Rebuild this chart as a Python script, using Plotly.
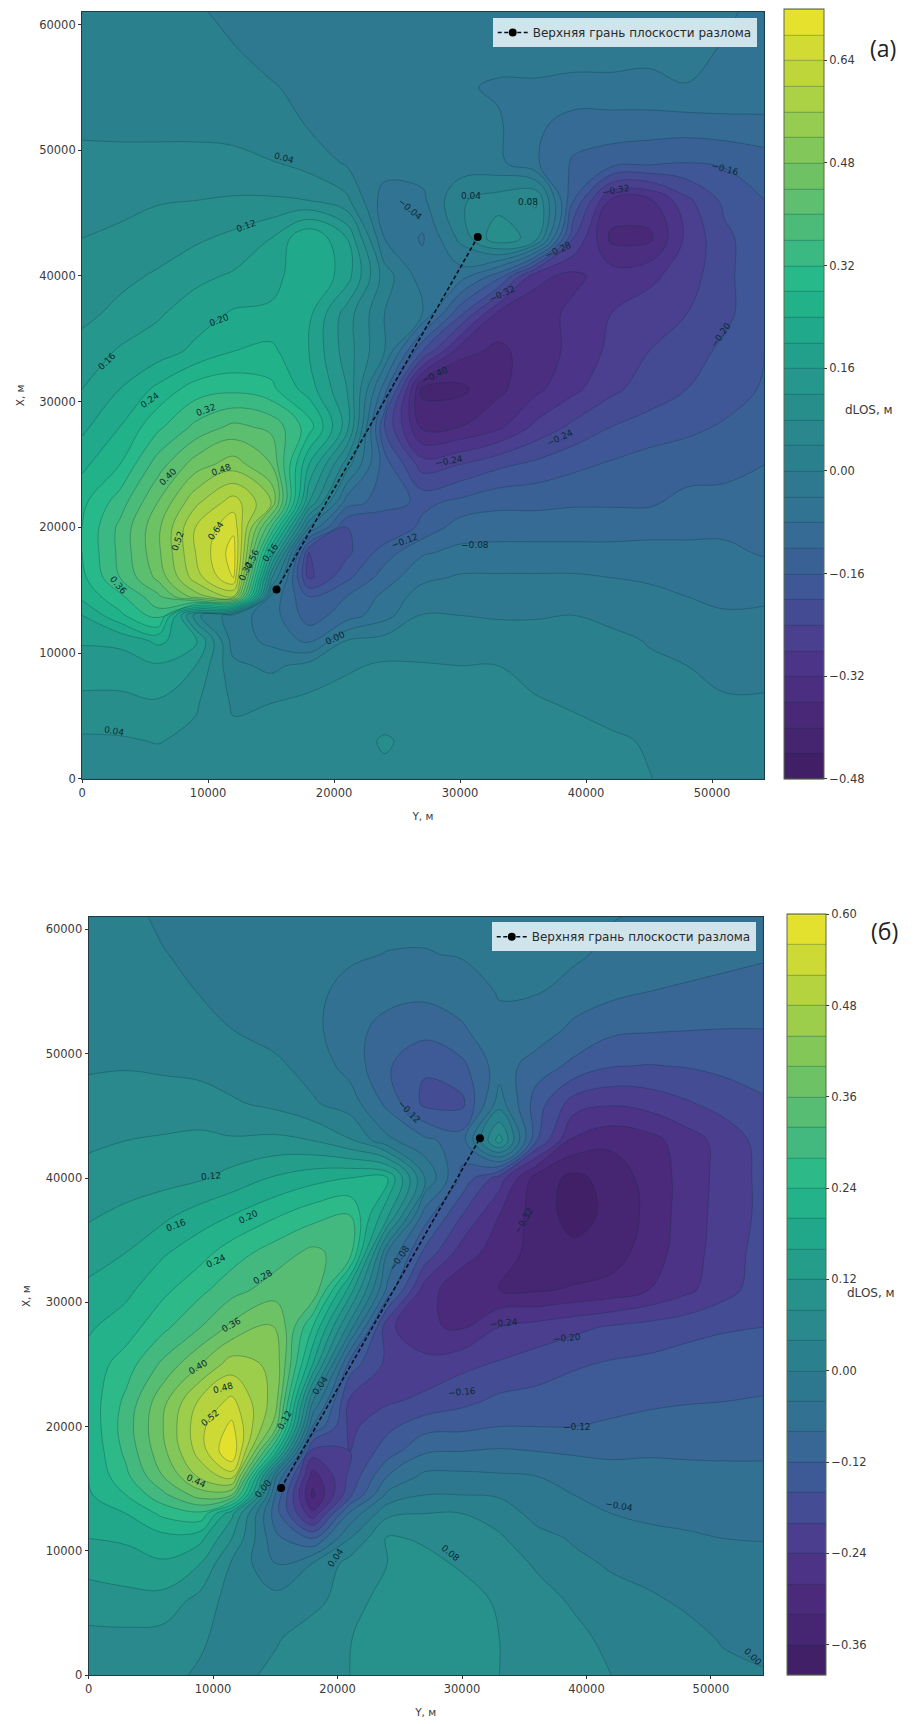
import plotly.graph_objects as go

W, H = 923, 1724
FONT = "DejaVu Sans"
TXT = "#3a3a3a"

x_a = [0,3000,6000,9000,12000,15000,18000,21000,24000,27000,30000,33000,36000,39000,42000,45000,48000,51000,54200]
x_b = [0,3000,6000,9000,11500,15000,18000,21000,24000,27000,30000,33000,36000,39000,42000,45000,48000,51000,54200]
y_rows = [61000,58000,55000,52000,49000,46000,43000,40000,37000,34000,31000,28000,25000,22000,20000,18000,16000,14500,13000,11000,9000,6000,3000,0]

z_a = [
[.03,.025,.02,.005,-.01,-.015,-.02,-.02,-.02,-.02,-.02,-.02,-.02,-.02,-.02,-.025,-.03,-.035,-.05],
[.03,.03,.025,.015,.002,-.012,-.018,-.02,-.02,-.02,-.02,-.025,-.025,-.025,-.025,-.03,-.033,-.042,-.055],
[.03,.03,.03,.028,.02,.003,-.01,-.02,-.025,-.03,-.035,-.045,-.045,-.05,-.05,-.05,-.041,-.045,-.055],
[.036,.036,.036,.036,.034,.02,-.003,-.012,-.02,-.025,-.03,-.035,-.07,-.10,-.10,-.10,-.10,-.095,-.09],
[.046,.045,.045,.045,.045,.042,.025,-.005,-.02,-.02,-.025,-.03,-.075,-.125,-.14,-.15,-.16,-.155,-.14],
[.06,.073,.077,.08,.085,.085,.08,.05,-.06,-.05,.035,.06,.085,-.16,-.33,-.33,-.25,-.19,-.16],
[.08,.085,.10,.113,.13,.16,.24,.16,-.04,-.085,.01,.11,.06,-.24,-.37,-.37,-.27,-.21,-.17],
[.095,.11,.125,.15,.165,.18,.24,.18,.02,-.06,-.06,-.14,-.31,-.33,-.30,-.29,-.26,-.21,-.17],
[.11,.13,.155,.18,.205,.21,.21,.10,.0,-.04,-.19,-.33,-.34,-.31,-.28,-.26,-.24,-.21,-.17],
[.135,.165,.18,.21,.24,.25,.20,.10,.0,-.20,-.345,-.37,-.34,-.31,-.27,-.24,-.22,-.19,-.16],
[.16,.20,.25,.30,.31,.29,.22,.12,-.10,-.41,-.41,-.37,-.33,-.29,-.25,-.22,-.20,-.18,-.155],
[.19,.24,.31,.37,.41,.39,.30,.14,-.20,-.37,-.36,-.33,-.27,-.23,-.20,-.185,-.17,-.155,-.14],
[.23,.28,.38,.46,.50,.44,.20,.02,-.14,-.26,-.24,-.21,-.19,-.17,-.155,-.14,-.135,-.13,-.12],
[.27,.34,.44,.55,.62,.52,.12,-.10,-.14,-.17,-.15,-.13,-.13,-.125,-.125,-.125,-.11,-.11,-.105],
[.28,.37,.47,.60,.67,.36,-.04,-.20,-.20,-.15,-.10,-.10,-.10,-.10,-.10,-.10,-.095,-.09,-.09],
[.28,.37,.47,.60,.70,.20,-.24,-.21,-.14,-.085,-.07,-.065,-.065,-.065,-.065,-.06,-.065,-.07,-.085],
[.27,.36,.45,.58,.68,.05,-.25,-.17,-.10,-.05,-.035,-.035,-.035,-.035,-.04,-.045,-.055,-.06,-.06],
[.25,.31,.39,.50,.56,-.05,-.16,-.12,-.07,-.02,-.017,-.017,-.017,-.015,-.025,-.03,-.04,-.05,-.045],
[.20,.27,.34,.05,-.02,-.06,-.14,-.10,-.055,.002,.0,-.003,-.003,.0,-.008,-.015,-.025,-.035,-.035],
[.165,.17,.21,.17,-.02,-.05,-.09,.0,.015,.02,.02,.015,.015,.01,.008,-.002,-.012,-.03,-.025],
[.14,.14,.155,.12,.01,-.01,.015,.035,.045,.043,.04,.04,.03,.018,.012,.005,.0,-.01,-.01],
[.11,.11,.115,.085,.035,.04,.05,.055,.055,.055,.055,.055,.043,.037,.028,.018,.01,.004,.004],
[.073,.075,.082,.07,.05,.055,.055,.06,.085,.065,.06,.06,.055,.05,.045,.037,.025,.02,.02],
[.055,.055,.055,.055,.05,.055,.06,.06,.07,.06,.06,.06,.055,.05,.045,.041,.03,.025,.025],
]

z_b = [
[.03,.012,-.008,-.015,-.02,-.022,-.025,-.03,-.03,-.03,-.03,-.03,-.03,-.03,-.038,-.045,-.05,-.055,-.06],
[.03,.025,.002,-.012,-.02,-.025,-.03,-.035,-.041,-.042,-.037,-.033,-.03,-.033,-.05,-.06,-.065,-.07,-.075],
[.03,.03,.022,-.003,-.015,-.025,-.032,-.05,-.065,-.07,-.06,-.037,-.038,-.055,-.07,-.08,-.085,-.09,-.097],
[.033,.033,.03,.02,.0,-.015,-.03,-.065,-.095,-.105,-.085,-.05,-.055,-.09,-.11,-.115,-.118,-.12,-.12],
[.037,.038,.035,.03,.02,.008,-.015,-.055,-.115,-.155,-.13,-.06,-.10,-.13,-.158,-.162,-.158,-.15,-.145],
[.05,.055,.055,.055,.045,.03,.005,-.02,-.09,-.17,-.17,-.02,-.14,-.22,-.235,-.225,-.205,-.185,-.165],
[.075,.08,.085,.09,.085,.09,.08,.045,-.03,-.07,-.10,.10,-.16,-.29,-.31,-.295,-.26,-.225,-.185],
[.09,.10,.105,.115,.135,.165,.185,.20,.20,.0,-.13,-.22,-.34,-.37,-.345,-.305,-.265,-.225,-.19],
[.115,.13,.15,.18,.20,.235,.265,.28,.13,-.10,-.20,-.28,-.34,-.375,-.35,-.31,-.26,-.225,-.19],
[.14,.16,.195,.225,.26,.30,.33,.30,-.04,-.17,-.26,-.30,-.335,-.35,-.34,-.30,-.26,-.22,-.185],
[.17,.19,.23,.27,.305,.34,.355,.14,-.09,-.26,-.31,-.32,-.325,-.315,-.305,-.28,-.25,-.215,-.18],
[.195,.22,.27,.32,.37,.405,.24,.02,-.23,-.275,-.285,-.24,-.225,-.21,-.195,-.185,-.175,-.165,-.16],
[.215,.26,.33,.40,.46,.43,.16,-.14,-.21,-.225,-.21,-.195,-.18,-.165,-.155,-.15,-.14,-.135,-.13],
[.215,.29,.39,.49,.53,.42,.0,-.21,-.205,-.19,-.17,-.15,-.145,-.135,-.13,-.125,-.122,-.12,-.118],
[.21,.30,.40,.51,.57,.38,-.08,-.21,-.17,-.135,-.13,-.12,-.12,-.12,-.115,-.11,-.105,-.10,-.10],
[.205,.29,.39,.50,.60,.22,-.22,-.20,-.14,-.085,-.08,-.075,-.08,-.085,-.09,-.085,-.085,-.085,-.085],
[.20,.27,.36,.45,.50,-.03,-.30,-.19,-.08,-.03,-.03,-.035,-.04,-.055,-.06,-.065,-.07,-.072,-.072],
[.195,.24,.31,.38,.36,-.08,-.33,-.17,-.03,.0,.0,-.005,-.03,-.04,-.045,-.055,-.06,-.063,-.065],
[.185,.20,.25,.27,.13,-.10,-.27,-.07,.03,.04,.04,.025,-.015,-.03,-.04,-.047,-.05,-.055,-.055],
[.16,.165,.185,.17,.08,-.07,-.12,.0,.085,.075,.06,.045,.015,-.005,-.02,-.03,-.035,-.04,-.041],
[.135,.145,.155,.12,.035,-.04,.0,.055,.08,.09,.075,.06,.035,.01,-.005,-.012,-.02,-.03,-.033],
[.10,.105,.105,.065,.022,.015,.028,.06,.10,.11,.095,.075,.055,.035,.015,.005,-.005,-.015,-.02],
[.07,.07,.065,.045,.025,.035,.06,.078,.11,.115,.105,.08,.065,.05,.03,.02,.01,-.003,-.007],
[.06,.055,.05,.035,.025,.05,.065,.08,.11,.115,.105,.08,.07,.055,.04,.03,.02,.008,.002],
]

fault_x_a = [15430, 31400]
fault_y_a = [15050, 43100]
fault_x_b = [15460, 31440]
fault_y_b = [15060, 43200]

ticks_x = [0,10000,20000,30000,40000,50000]
ticks_y = [0,10000,20000,30000,40000,50000,60000]
cb_vals_a = [-0.48,-0.32,-0.16,0.00,0.16,0.32,0.48,0.64]
cb_text_a = ["−0.48","−0.32","−0.16","0.00","0.16","0.32","0.48","0.64"]
cb_vals_b = [-0.36,-0.24,-0.12,0.00,0.12,0.24,0.36,0.48,0.60]
cb_text_b = ["−0.36","−0.24","−0.12","0.00","0.12","0.24","0.36","0.48","0.60"]

lab_a_text = ["0.04","−0.04","0.12","0.20","0.16","0.24","0.32","0.40","0.48","0.52","0.64","0.36","0.16","0.32","0.56","0.04","0.00","−0.12","−0.24","−0.24","−0.08","−0.28","−0.32","−0.40","−0.32","−0.16","−0.20","0.04","0.08"]
lab_a_x = [16000,26000,13000,10900,2000,5400,9800,6800,11000,7600,10600,2850,14900,13000,13500,2500,20100,25600,29100,37900,31200,37800,33300,28000,42400,51000,50700,30900,35400]
lab_a_y = [49400,45300,44000,36500,33200,30100,29300,24000,24600,18900,19700,15400,18000,16500,17500,3800,11200,18900,25300,27100,18600,42100,38600,32100,46800,48500,35300,46400,45900]
lab_a_ang = [15,40,-20,-20,-45,-35,-20,-45,-20,-70,-55,50,-55,-65,-65,10,-25,-20,-10,-25,0,-25,-25,-25,-10,15,-55,0,0]

lab_b_text = ["0.12","0.16","0.20","0.24","0.28","0.36","0.40","0.48","0.52","0.44","0.12","0.04","0.00","−0.08","−0.12","−0.32","−0.24","−0.20","−0.16","−0.12","−0.04","0.04","0.08","0.00"]
lab_b_x = [9850,7050,12800,10250,14000,11450,8800,10800,9760,8640,15760,18560,14000,24960,25760,35000,33400,38400,30000,39200,42600,19840,29040,53400]
lab_b_y = [40200,36200,36900,33300,32000,28200,24800,23100,20700,15600,20500,23300,15000,33600,45300,36600,28300,27100,22800,20000,13600,9400,9800,1500]
lab_b_ang = [-5,-20,-25,-25,-30,-30,-30,-15,-40,25,-60,-55,-50,-55,45,-60,-5,-5,-5,0,10,-55,40,45]

SCALE = [
[0.00,"#3f1d63"],[0.10,"#4b2a7c"],[0.17,"#4d3a8e"],[0.25,"#3f5797"],[0.33,"#336f93"],
[0.40,"#2c7c8e"],[0.50,"#27928c"],[0.60,"#1fae8a"],[0.65,"#28b98a"],[0.70,"#43b97f"],
[0.80,"#76c45f"],[0.90,"#b5d33e"],[1.00,"#f0e42a"],
]
LINE = "rgba(10,50,60,0.5)"

def contour(x, y, z, lo, hi, vals, text, cb_x, cb_w, top, bottom):
    return go.Contour(
        x=x, y=y, z=z, zmin=lo, zmax=hi, colorscale=SCALE, autocontour=False,
        contours=dict(start=lo, end=hi, size=0.04, coloring="fill", showlines=True),
        line=dict(color=LINE, width=0.6, smoothing=1.1),
        hoverinfo="skip",
        colorbar=dict(
            x=cb_x/W, xanchor="left", xpad=0, ypad=0, y=1-bottom/H, yanchor="bottom",
            len=bottom-top, lenmode="pixels", thickness=cb_w, thicknessmode="pixels",
            tickmode="array", tickvals=vals, ticktext=text, ticks="outside", ticklen=3,
            tickcolor="#333", tickfont=dict(family=FONT, size=11.5, color=TXT),
            outlinecolor="#5b6a4a", outlinewidth=1,
        ),
    )

def fault(x, y, xa, ya, leg):
    return go.Scatter(
        x=x, y=y, xaxis=xa, yaxis=ya, mode="lines+markers", name="Верхняя грань плоскости разлома",
        line=dict(color="#05101e", width=1.6, dash="4px,2.5px"), marker=dict(color="#000", size=8),
        legend=leg, showlegend=True, hoverinfo="skip",
    )

fig = go.Figure()
ca = contour(x_a, y_rows, z_a, -0.48, 0.72, cb_vals_a, cb_text_a, 783, 40, 12, 782)
cb = contour(x_b, y_rows, z_b, -0.40, 0.60, cb_vals_b, cb_text_b, 786, 39, 921, 1682)
cb.update(xaxis="x2", yaxis="y2")
fig.add_trace(ca); fig.add_trace(cb)
fig.add_trace(fault(fault_x_a, fault_y_a, "x", "y", "legend"))
fig.add_trace(fault(fault_x_b, fault_y_b, "x2", "y2", "legend2"))

def ax(dom, rng, vals, title, anchor, standoff):
    return dict(domain=dom, range=rng, tickmode="array", tickvals=vals, ticktext=[str(v) for v in vals],
                ticks="outside", ticklen=3, tickcolor="#333", showgrid=False, zeroline=False,
                showline=True, mirror=True, linecolor="#1c3d48", linewidth=1.2, anchor=anchor,
                tickfont=dict(family=FONT, size=11.5, color=TXT),
                title=dict(text=title, standoff=standoff, font=dict(family=FONT, size=10.5, color=TXT)))

fig.update_layout(
    width=W, height=H, margin=dict(l=0, r=0, t=0, b=0), paper_bgcolor="white", plot_bgcolor="white",
    xaxis=ax([78.5/W, 763/W], [0, 54100], ticks_x, "Y, м", "y", 13),
    yaxis=ax([1-782/H, 1-12/H], [0, 61000], ticks_y, "X, м", "x", 12),
    xaxis2=ax([85/W, 762/W], [0, 54160], ticks_x, "Y, м", "y2", 13),
    yaxis2=ax([1-1682/H, 1-921/H], [0, 60980], ticks_y, "X, м", "x2", 12),
    legend=dict(x=756/W, y=1-18/H, xanchor="right", yanchor="top", bgcolor="rgba(225,240,245,0.9)",
                font=dict(family=FONT, size=12, color="#2a2a2a"), itemwidth=30, tracegroupgap=0),
    legend2=dict(x=755/W, y=1-926/H, xanchor="right", yanchor="top", bgcolor="rgba(225,240,245,0.9)",
                 font=dict(family=FONT, size=12, color="#2a2a2a"), itemwidth=30, tracegroupgap=0),
)

anns = []
for t, x, y, a in zip(lab_a_text, lab_a_x, lab_a_y, lab_a_ang):
    anns.append(dict(text=t, x=x, y=y, xref="x", yref="y", textangle=a, showarrow=False,
                     font=dict(family=FONT, size=9, color="#0b2a33")))
for t, x, y, a in zip(lab_b_text, lab_b_x, lab_b_y, lab_b_ang):
    anns.append(dict(text=t, x=x, y=y, xref="x2", yref="y2", textangle=a, showarrow=False,
                     font=dict(family=FONT, size=9, color="#0b2a33")))
for t, px, py, s in [("(а)", 898, 30, 23), ("(б)", 900, 935, 23), ("dLOS, м", 895, 403, 12), ("dLOS, м", 897, 1307, 12)]:
    anns.append(dict(text=t, x=px/W, y=1-py/H, xref="paper", yref="paper", showarrow=False,
                     font=dict(family="Open Sans" if s == 23 else FONT, size=s, color="#222" if s == 23 else TXT)))
fig.update_layout(annotations=anns)

fig.write_html("out.html", post_script="document.body.style.margin='0';", config={"displayModeBar": False})
